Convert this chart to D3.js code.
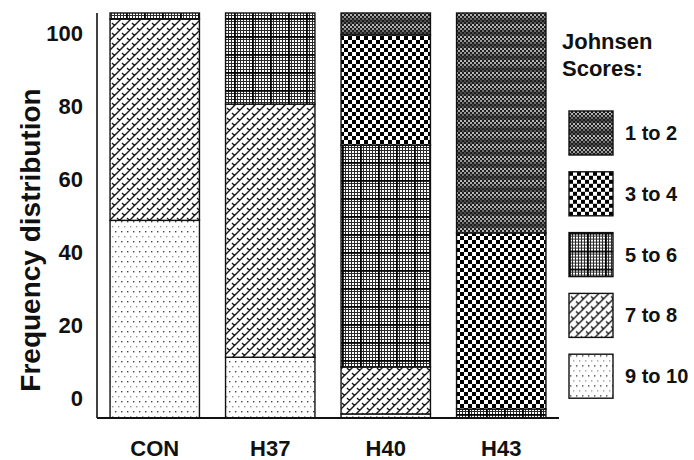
<!DOCTYPE html>
<html>
<head>
<meta charset="utf-8">
<script src="https://cdn.jsdelivr.net/npm/d3@7"></script>
<style>
  html, body { margin: 0; padding: 0; background: #fff; }
  svg { display: block; font-family: "Liberation Sans", Arial, sans-serif; }
</style>
</head>
<body>
<svg id="chart" width="694" height="460"></svg>
<script>
// ---- data ----
const categories = ["CON", "H37", "H40", "H43"];
const scoreLabels = ["1 to 2", "3 to 4", "5 to 6", "7 to 8", "9 to 10"];
const score1to2 = [0, 0, 5.4, 54.3];
const score3to4 = [0, 0, 27.2, 43.5];
const score5to6 = [1.5, 22.5, 54.8, 2.2];
const score7to8 = [49.7, 62.5, 11.6, 0];
const score9to10 = [48.8, 15.0, 1.0, 0];
const yTicks = [0, 20, 40, 60, 80, 100];
const yTitle = "Frequency distribution";
const legendTitle = ["Johnsen", "Scores:"];

const seriesValues = [score1to2, score3to4, score5to6, score7to8, score9to10];
const table = categories.map((c, i) => {
  const row = { cat: c };
  scoreLabels.forEach((s, j) => row[s] = seriesValues[j][i]);
  return row;
});
// stack bottom-up: 9 to 10 first
const stackKeys = scoreLabels.slice().reverse();
const stacked = d3.stack().keys(stackKeys)(table);

const svg = d3.select("#chart");
const defs = svg.append("defs");

// ---- patterns ----
function pat(id, w, h, draw) {
  const p = defs.append("pattern").attr("id", id)
    .attr("patternUnits", "userSpaceOnUse").attr("width", w).attr("height", h);
  draw(p);
}
// 1 to 2 : dark fine dotted with bands
pat("p12", 4, 12, p => {
  p.append("rect").attr("width", 4).attr("height", 12).attr("fill", "#1e1e1e");
  const cells = [[0,0,"#b8b8b8"],[2,2,"#b0b0b0"],[0,4,"#9a9a9a"],[2,6,"#707070"],[0,8,"#4a4a4a"],[2,10,"#5a5a5a"]];
  cells.forEach(c => p.append("rect").attr("x", c[0]).attr("y", c[1]).attr("width", 2).attr("height", 2).attr("fill", c[2]));
});
// 3 to 4 : checkerboard
pat("p34", 8, 8, p => {
  p.append("rect").attr("width", 8).attr("height", 8).attr("fill", "#fff");
  p.append("rect").attr("x", 0).attr("y", 0).attr("width", 4).attr("height", 4).attr("fill", "#000");
  p.append("rect").attr("x", 4).attr("y", 4).attr("width", 4).attr("height", 4).attr("fill", "#000");
});
// 5 to 6 : grid
pat("p56", 18, 18, p => {
  p.append("rect").attr("width", 18).attr("height", 18).attr("fill", "#fff");
  for (let k = 0; k < 18; k += 3) {
    p.append("rect").attr("x", k).attr("y", 0).attr("width", 1).attr("height", 18).attr("fill", "#2a2a2a");
    p.append("rect").attr("x", 0).attr("y", k).attr("width", 18).attr("height", 1).attr("fill", "#2a2a2a");
  }
  p.append("rect").attr("x", 0).attr("y", 0).attr("width", 1.8).attr("height", 18).attr("fill", "#000");
  p.append("rect").attr("x", 0).attr("y", 0).attr("width", 18).attr("height", 1.8).attr("fill", "#000");
});
// 7 to 8 : slanted weave
pat("p78", 10, 10, p => {
  p.append("rect").attr("width", 10).attr("height", 10).attr("fill", "#fff");
  p.append("path")
    .attr("d", "M-5,5 L5,-5 M0,10 L10,0 M5,15 L15,5 M2,3 L5,6 M7,8 L10,11 M-3,-2 L0,1 M7,-2 L10,1 M-3,8 L0,11")
    .attr("stroke", "#1a1a1a").attr("stroke-width", 1.4).attr("fill", "none");
});
// 9 to 10 : sparse dots
pat("p910", 6, 10, p => {
  p.append("rect").attr("width", 6).attr("height", 10).attr("fill", "#fff");
  p.append("rect").attr("x", 1).attr("y", 1).attr("width", 1.4).attr("height", 1.4).attr("fill", "#444");
  p.append("rect").attr("x", 4).attr("y", 6).attr("width", 1.4).attr("height", 1.4).attr("fill", "#999");
});
const patternOf = { "1 to 2": "url(#p12)", "3 to 4": "url(#p34)", "5 to 6": "url(#p56)", "7 to 8": "url(#p78)", "9 to 10": "url(#p910)" };

// ---- scales ----
const x = d3.scaleBand().domain(categories).range([97, 559]).paddingInner(0.226).paddingOuter(0.113);
const yBar = d3.scaleLinear().domain([0, 100]).range([418, 13]);
const yLab = d3.scaleLinear().domain([0, 100]).range([398, 33]);

// ---- bars ----
const g = svg.append("g");
stacked.forEach(layer => {
  g.append("g").selectAll("rect").data(layer).join("rect")
    .filter(d => d[1] - d[0] > 0)
    .attr("x", d => x(d.data.cat))
    .attr("width", x.bandwidth())
    .attr("y", d => yBar(d[1]))
    .attr("height", d => yBar(d[0]) - yBar(d[1]))
    .attr("fill", patternOf[layer.key])
    .attr("stroke", "#111").attr("stroke-width", 1.4);
});

// ---- axes ----
svg.append("line").attr("x1", 97).attr("x2", 97).attr("y1", yBar(100)).attr("y2", yBar(0))
  .attr("stroke", "#111").attr("stroke-width", 1.6);
svg.append("line").attr("x1", x.range()[0]).attr("x2", x.range()[1]).attr("y1", yBar(0)).attr("y2", yBar(0))
  .attr("stroke", "#111").attr("stroke-width", 2);

const yAxis = svg.append("g").attr("transform", "translate(97,0)")
  .call(d3.axisLeft(yLab).tickValues(yTicks).tickSize(0).tickPadding(14));
yAxis.select(".domain").remove();
yAxis.selectAll("text").attr("font-size", 22).attr("font-weight", "bold").attr("fill", "#111")
  .attr("font-family", "Liberation Sans, Arial, sans-serif");

const xAxis = svg.append("g").attr("transform", "translate(0,418)")
  .call(d3.axisBottom(x).tickSize(0).tickPadding(22));
xAxis.select(".domain").remove();
xAxis.selectAll("text").attr("font-size", 22).attr("font-weight", "bold").attr("fill", "#111")
  .attr("font-family", "Liberation Sans, Arial, sans-serif");

svg.append("text").attr("transform", "translate(40,240) rotate(-90)")
  .attr("text-anchor", "middle").attr("font-size", 28).attr("font-weight", "bold").attr("fill", "#111")
  .text(yTitle);

// ---- legend ----
const leg = svg.append("g");
leg.selectAll("text.title").data(legendTitle).join("text").attr("class", "title")
  .attr("x", 562).attr("y", (d, i) => 49 + i * 27)
  .attr("font-size", 22).attr("font-weight", "bold").attr("fill", "#111").text(d => d);
const items = leg.selectAll("g.item").data(scoreLabels).join("g").attr("class", "item")
  .attr("transform", (d, i) => `translate(569,${111 + i * 60.8})`);
items.append("rect").attr("width", 44).attr("height", 44)
  .attr("fill", d => patternOf[d]).attr("stroke", "#111").attr("stroke-width", 1.4);
items.append("text").attr("x", 56).attr("y", 29)
  .attr("font-size", 20).attr("font-weight", "bold").attr("fill", "#111").text(d => d);
</script>
</body>
</html>
